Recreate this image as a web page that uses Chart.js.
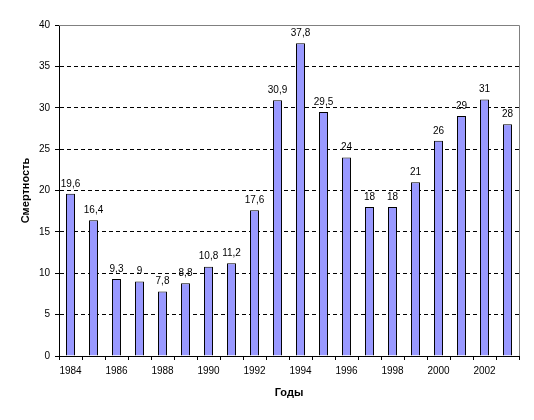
<!DOCTYPE html>
<html><head><meta charset="utf-8">
<script src="https://cdn.jsdelivr.net/npm/chart.js@4/dist/chart.umd.min.js"></script>
<style>html,body{margin:0;padding:0;background:#fff}#w{width:534px;height:420px}</style>
</head><body><div id="w"><canvas id="c"></canvas></div>
<script>
const years = ['1984','1985','1986','1987','1988','1989','1990','1991','1992','1993','1994','1995','1996','1997','1998','1999','2000','2001','2002','2003'];
const mortality = [19.6,16.4,9.3,9,7.8,8.8,10.8,11.2,17.6,30.9,37.8,29.5,24,18,18,21,26,29,31,28];
const yTicks = [0,5,10,15,20,25,30,35,40];
const xTitle = 'Годы';
const yTitle = 'Смертность';

const FONT = 'Liberation Sans, Arial, sans-serif';

const labelsPlugin = {
  id: 'vals',
  afterDatasetsDraw(chart) {
    const ctx = chart.ctx;
    const meta = chart.getDatasetMeta(0);
    ctx.save();
    ctx.font = '10px ' + FONT;
    ctx.fillStyle = '#000';
    ctx.textAlign = 'center';
    ctx.textBaseline = 'bottom';
    meta.data.forEach((bar, i) => {
      const v = chart.data.datasets[0].data[i];
      ctx.fillText(String(v).replace('.', ','), bar.x, bar.y - 5);
    });
    ctx.restore();
  }
};
const framePlugin = {
  id: 'frame',
  beforeDatasetsDraw(chart) {
    const a = chart.chartArea, ctx = chart.ctx;
    ctx.save();
    ctx.strokeStyle = '#808080';
    ctx.lineWidth = 1;
    ctx.beginPath();
    ctx.moveTo(a.left, a.top + 0.5);
    ctx.lineTo(a.right + 0.5, a.top + 0.5);
    ctx.lineTo(a.right + 0.5, a.bottom);
    ctx.stroke();
    ctx.restore();
  }
};

new Chart(document.getElementById('c'), {
  type: 'bar',
  data: {
    labels: years,
    datasets: [{
      data: mortality,
      backgroundColor: '#9999FF',
      borderColor: '#000',
      borderWidth: 1,
      barPercentage: 0.39,
      categoryPercentage: 1
    }]
  },
  options: {
    responsive: true,
    maintainAspectRatio: false,
    animation: false,
    layout: { padding: { left: 0, right: 15, top: 25, bottom: 0 } },
    plugins: { legend: { display: false }, tooltip: { enabled: false } },
    scales: {
      x: {
        offset: true,
        grid: { display: true, drawOnChartArea: false, offset: true, tickLength: 4, tickColor: '#000', color: '#000' },
        border: { color: '#000', width: 1 },
        ticks: {
          autoSkip: false, maxRotation: 0, minRotation: 0, padding: 5,
          color: '#000', font: { family: FONT, size: 10 },
          callback: function(v, i) { return i % 2 === 0 ? years[i] : ''; }
        },
        title: { display: true, text: xTitle, color: '#000', font: { family: FONT, size: 11, weight: 'bold' }, padding: { top: 4, bottom: 20 } },
        afterFit(s) { s.height = 64; }
      },
      y: {
        min: 0, max: 40,
        afterBuildTicks(s) { s.ticks = yTicks.map(v => ({ value: v })); },
        grid: {
          color: c => (c.tick && c.tick.value > 0 && c.tick.value < 40) ? '#000' : 'rgba(0,0,0,0)',
          tickColor: '#000', tickLength: 4, lineWidth: 1
        },
        border: { color: '#000', width: 1, dash: [4, 3] },
        ticks: { color: '#000', padding: 5, font: { family: FONT, size: 10 } },
        title: { display: true, text: yTitle, color: '#000', font: { family: FONT, size: 11, weight: 'bold' }, padding: { top: 19, bottom: 0 } },
        afterFit(s) { s.width = 59; }
      }
    }
  },
  plugins: [labelsPlugin, framePlugin]
});
</script>
</body></html>
